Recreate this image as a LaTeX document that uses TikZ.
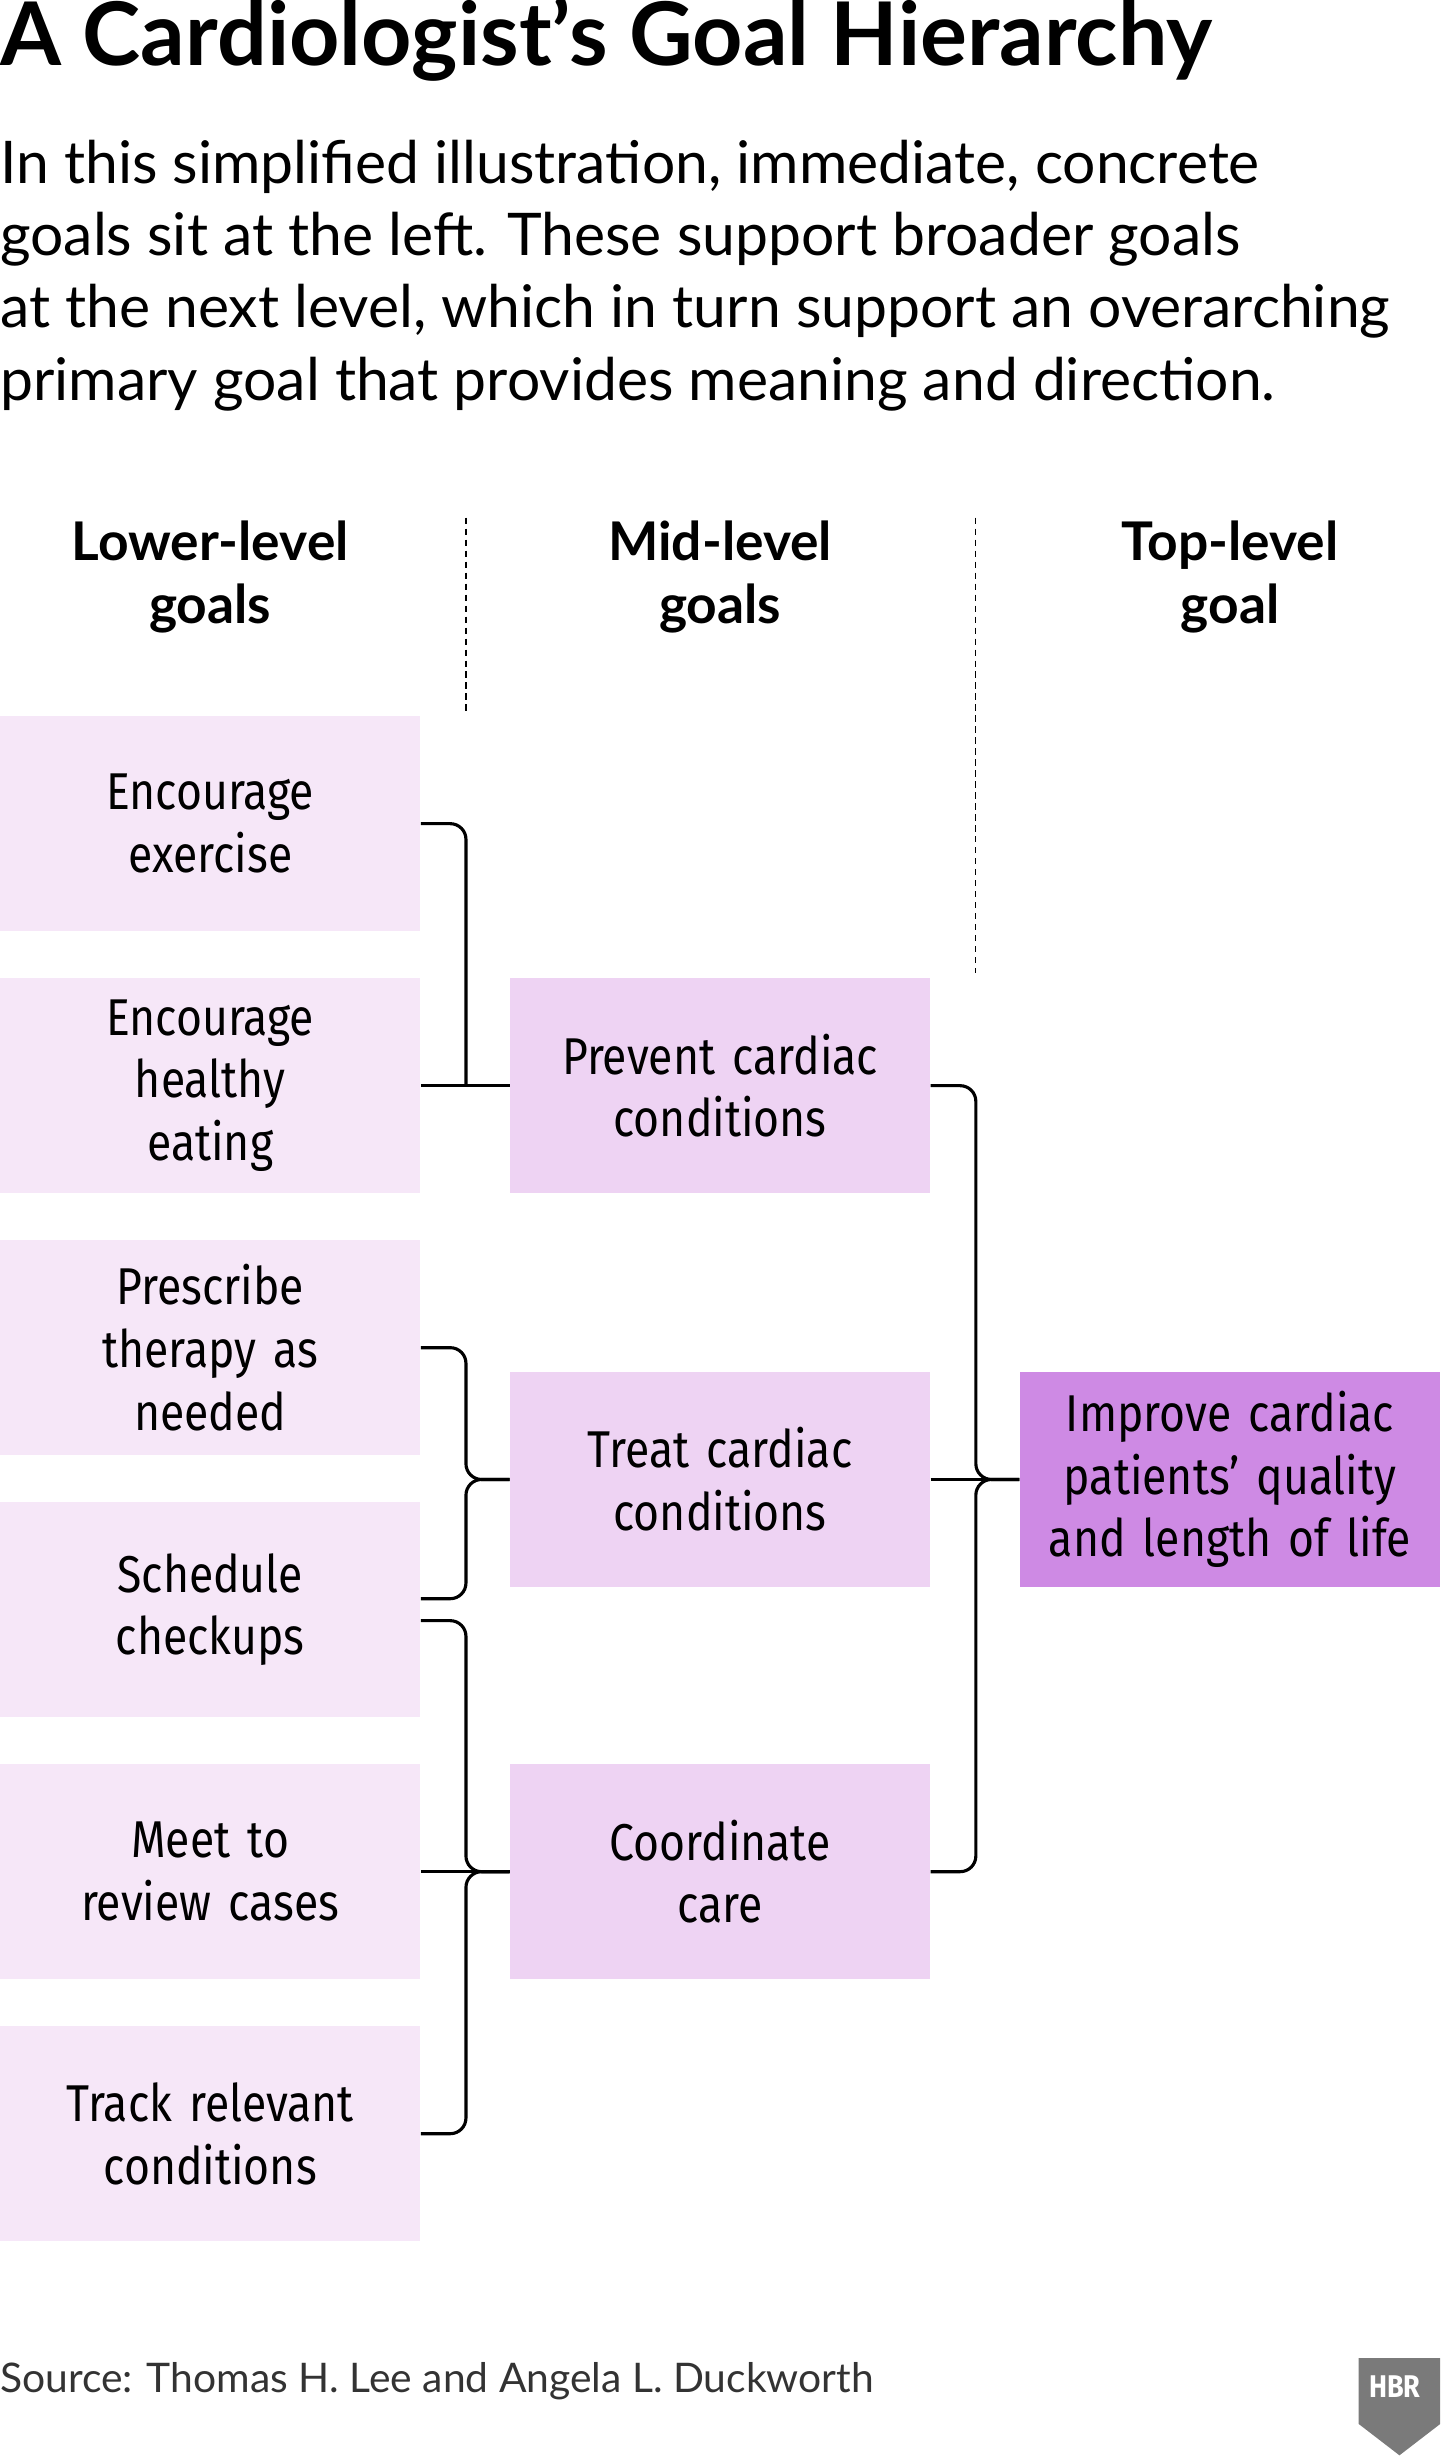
\documentclass[tikz,border=0pt]{standalone}
\usepackage{fontspec}
\setmainfont{Lato}
\newfontfamily\boxfont[FakeStretch=0.86]{Fira Sans}
\usetikzlibrary{calc}
\definecolor{lowpink}{HTML}{F6E7F8}
\definecolor{midpink}{HTML}{EED3F3}
\definecolor{toppink}{HTML}{CE8AE4}
\definecolor{shieldgray}{HTML}{7A7A7A}
\tikzset{
  goal/.style={minimum width=268pt, minimum height=137pt, inner sep=0pt,
    text width=260pt, align=center, font=\boxfont\fontsize{33}{40}\selectfont},
  head/.style={align=center, font=\bfseries\fontsize{34}{40}\selectfont},
  link/.style={line width=2pt, rounded corners=10pt},
  sep/.style={line width=0.8pt, dash pattern=on 4pt off 3pt}
}
\begin{document}
\begin{tikzpicture}[x=1pt,y=-1pt]
\useasboundingbox (0,0) rectangle (918,1568);

% title and intro
\node[anchor=base west, inner sep=0pt, font=\bfseries\fontsize{56}{60}\selectfont] (title) at (0,42) {A Cardiologist’s Goal Hierarchy};
\node[anchor=base west, inner sep=0pt, align=left, font=\fontsize{37.5}{46}\selectfont] (intro) at (0,255)
  {In this simplified illustration, immediate, concrete\\goals sit at the left. These support broader goals\\at the next level, which in turn support an overarching\\primary goal that provides meaning and direction.};

% column heads
\node[head] (hlow) at (134,368) {Lower-level\\goals};
\node[head] (hmid) at (459,368) {Mid-level\\goals};
\node[head] (htop) at (784,368) {Top-level\\goal};
\draw[sep] (297,330) -- (297,455);
\draw[sep] (622,330) -- (622,620);

% lower-level goals
\node[goal, fill=lowpink] (ex) at (134,525) {Encourage\\exercise};
\node[goal, fill=lowpink] (he) at (134,692) {Encourage\\healthy\\eating};
\node[goal, fill=lowpink] (pt) at (134,859) {Prescribe\\therapy as\\needed};
\node[goal, fill=lowpink] (sc) at (134,1026) {Schedule\\checkups};
\node[goal, fill=lowpink] (mr) at (134,1193) {Meet to\\review cases};
\node[goal, fill=lowpink] (tr) at (134,1360) {Track relevant\\conditions};

% mid-level goals
\node[goal, fill=midpink] (pc) at (459,692) {Prevent cardiac\\conditions};
\node[goal, fill=midpink] (tc) at (459,943) {Treat cardiac\\conditions};
\node[goal, fill=midpink] (cc) at (459,1193) {Coordinate\\care};

% top-level goal
\node[goal, fill=toppink] (ip) at (784,943) {Improve cardiac\\patients’ quality\\and length of life};

% junctions
\coordinate (j1) at (297,692);
\coordinate (j2) at (297,943);
\coordinate (j3) at (297,1193);
\coordinate (j4) at (622,943);

% connectors
\draw[link] (ex.east) -| (j1);
\draw[link] (he.east) -- (pc.west);
\draw[link] (pt.east) -| (j2) -- (tc.west);
\draw[link] ($(sc.east)+(0,-7)$) -| (j2) -- (tc.west);
\draw[link] ($(sc.east)+(0,7)$) -| (j3) -- (cc.west);
\draw[link] (tr.east) -| (j3) -- (cc.west);
\draw[link] (mr.east) -- (cc.west);
\draw[link] (pc.east) -| (j4) -- (ip.west);
\draw[link] (cc.east) -| (j4) -- (ip.west);
\draw[link] (tc.east) -- (ip.west);

% source and logo
\node[anchor=base west, inner sep=0pt, text=black!80, font=\fontsize{26}{30}\selectfont] (src) at (0,1525) {Source: Thomas H. Lee and Angela L. Duckworth};
\fill[shieldgray] (866,1503) -- (918,1503) -- (918,1545) -- (892,1565) -- (866,1545) -- cycle;
\node[text=white, inner sep=0pt, font=\boxfont\bfseries\fontsize{20}{22}\selectfont] (hbr) at (889,1521) {HBR};
\end{tikzpicture}
\end{document}
